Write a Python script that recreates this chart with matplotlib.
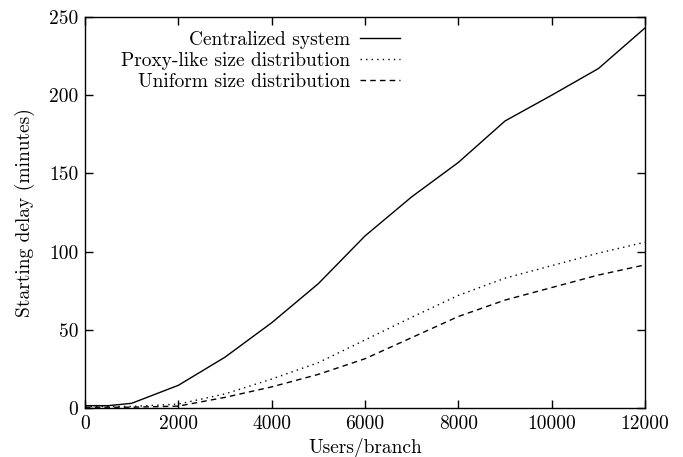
import matplotlib
matplotlib.use("Agg")
import matplotlib.pyplot as plt

users = [0, 500, 1000, 2000, 3000, 4000, 5000, 6000, 7000, 8000, 9000, 10000, 11000, 12000]
centralized = [1.5, 1.5, 3, 14.5, 32.5, 54.5, 79.5, 110, 135, 157, 183.5, 200, 217, 243]
proxy_like = [1, 1, 1, 2.5, 9, 18.5, 29, 43.5, 58, 72, 83, 91, 99, 106]
uniform = [0.5, 0.5, 0.5, 1.2, 6.8, 13.5, 21.5, 31.5, 45, 58.5, 69, 77, 85, 91.5]

labels = ["Centralized system", "Proxy-like size distribution", "Uniform size distribution"]
xticks = [0, 2000, 4000, 6000, 8000, 10000, 12000]
yticks = [0, 50, 100, 150, 200, 250]

plt.rcParams['font.family'] = ['cmr10', 'DejaVu Serif']
plt.rcParams['mathtext.fontset'] = 'cm'
plt.rcParams['axes.formatter.use_mathtext'] = True
plt.rcParams['font.size'] = 14

W, H = 683, 457
L, R, T, B = 85, 645, 17, 408
fig = plt.figure(figsize=(W/100, H/100), dpi=100)
ax = fig.add_axes([L/W, 1 - B/H, (R-L)/W, (B-T)/H])

ax.plot(users, centralized, color='black', lw=1.0, ls='-', label=labels[0])
ax.plot(users, proxy_like, color='black', lw=1.0, ls=(0, (1, 3)), label=labels[1])
ax.plot(users, uniform, color='black', lw=1.0, ls=(0, (4, 3)), label=labels[2])

ax.set_xlim(0, 12000)
ax.set_ylim(0, 250)
ax.set_xticks(xticks)
ax.set_yticks(yticks)
ax.set_xticklabels([str(v) for v in xticks])
ax.set_yticklabels([str(v) for v in yticks])
ax.tick_params(direction='in', top=True, right=True, length=6, width=1, pad=5)
for s in ax.spines.values():
    s.set_linewidth(1.0)

ax.set_xlabel("Users/branch", labelpad=4)
ax.set_ylabel("Starting delay (minutes)", labelpad=10)

leg = ax.legend(loc='upper right', bbox_to_anchor=((400-L)/(R-L), (B-31)/(B-T)), markerfirst=False,
                frameon=False, handlelength=2.05, handletextpad=0.5, labelspacing=0.15,
                borderaxespad=0, borderpad=0)

fig.savefig("out.png", dpi=100)
